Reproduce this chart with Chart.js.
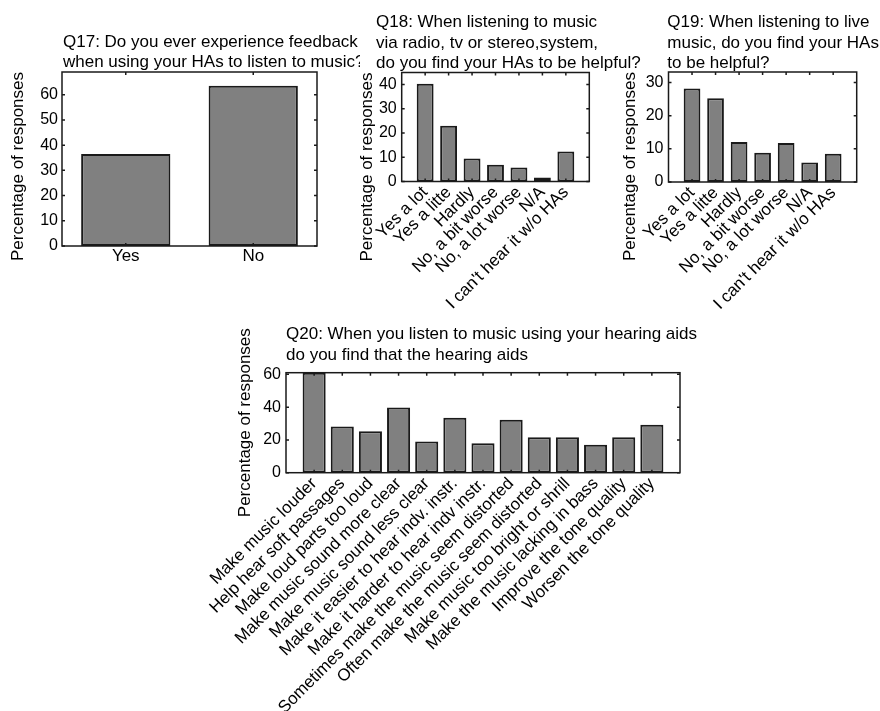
<!DOCTYPE html>
<html lang="en">
<head>
<meta charset="utf-8">
<title>Hearing aids and music</title>
<script src="https://cdn.jsdelivr.net/npm/chart.js@4.4.0/dist/chart.umd.min.js"></script>
<style>
  body { margin: 0; background: #fff; }
  #fig { position: relative; width: 880px; height: 711px; overflow: hidden; }
  #fig canvas { position: absolute; }
</style>
</head>
<body>
<div id="fig">
  <canvas id="q17" width="360" height="272" style="left:0px;top:0px"></canvas>
  <canvas id="q18" width="300" height="312" style="left:350px;top:0px"></canvas>
  <canvas id="q19" width="275" height="312" style="left:605px;top:0px"></canvas>
  <canvas id="q20" width="530" height="411" style="left:190px;top:300px"></canvas>
</div>
<script>
// values (percentage of responses)
var q17Labels = ['Yes', 'No'];
var q17Values = [36.5, 63.5];

var q18Labels = ['Yes a lot', 'Yes a litte', 'Hardly', 'No, a bit worse', 'No, a lot worse', 'N/A', "I can't hear it w/o HAs"];
var q18Values = [40.4, 23.0, 9.5, 6.9, 5.8, 1.7, 12.4];

var q19Labels = ['Yes a lot', 'Yes a litte', 'Hardly', 'No, a bit worse', 'No, a lot worse', 'N/A', "I can't hear it w/o HAs"];
var q19Values = [28.2, 25.3, 12.1, 8.8, 11.8, 5.9, 8.5];

var q20Labels = ['Make music louder', 'Help hear soft passages', 'Make loud parts too loud', 'Make music sound more clear',
  'Make music sound less clear', 'Make it easier to hear indv. instr.', 'Make it harder to hear indv instr.',
  'Sometimes make the music seem distorted', 'Often make the music seem distorted', 'Make music too bright or shrill',
  'Make the music lacking in bass', 'Improve the tone quality', 'Worsen the tone quality'];
var q20Values = [61, 28.2, 25.3, 39.7, 19.1, 33.5, 17.9, 32.3, 21.6, 21.6, 17.1, 21.6, 29.2];

var q17Title = ['Q17: Do you ever experience feedback', 'when using your HAs to listen to music?'];
var q18Title = ['Q18: When listening to music', 'via radio, tv or stereo,system,', 'do you find your HAs to be helpful?'];
var q19Title = ['Q19: When listening to live', 'music, do you find your HAs', 'to be helpful?'];
var q20Title = ['Q20: When you listen to music using your hearing aids', 'do you find that the hearing aids'];

var FONT = '"Liberation Sans", Arial, Helvetica, sans-serif';
Chart.defaults.font.family = FONT;
Chart.defaults.color = '#000';

// multi-line, left aligned title above the plot box
var panelTitle = {
  id: 'panelTitle',
  afterDraw: function(chart, args, o) {
    var a = chart.chartArea, ctx = chart.ctx, n = o.lines.length;
    ctx.save();
    ctx.font = '17px ' + FONT;
    ctx.fillStyle = '#000';
    ctx.textBaseline = 'alphabetic';
    o.lines.forEach(function(line, i) {
      ctx.fillText(line, a.left + o.dx, a.top - o.gap - (n - 1 - i) * o.lh);
    });
    ctx.restore();
  }
};

// matlab style box with inward ticks on all four sides
var frame = {
  id: 'frame',
  afterDatasetsDraw: function(chart) {
    var a = chart.chartArea, ctx = chart.ctx, t = 3;
    var xs = chart.scales.x, ys = chart.scales.y;
    ctx.save();
    ctx.strokeStyle = '#1a1a1a';
    ctx.lineWidth = 1.5;
    ctx.strokeRect(a.left, a.top, a.width, a.height);
    ctx.beginPath();
    xs.ticks.forEach(function(tk) {
      var px = xs.getPixelForValue(tk.value);
      ctx.moveTo(px, a.bottom); ctx.lineTo(px, a.bottom - t);
      ctx.moveTo(px, a.top); ctx.lineTo(px, a.top + t);
    });
    ys.ticks.forEach(function(tk) {
      var py = ys.getPixelForValue(tk.value);
      ctx.moveTo(a.left, py); ctx.lineTo(a.left + t, py);
      ctx.moveTo(a.right, py); ctx.lineTo(a.right - t, py);
    });
    ctx.stroke();
    ctx.restore();
  }
};

function makeChart(id, labels, values, title, p) {
  return new Chart(document.getElementById(id), {
    type: 'bar',
    data: {
      datasets: [{
        data: values.map(function(v, i) { return {x: i + 1, y: v}; }),
        backgroundColor: '#808080',
        borderColor: '#1a1a1a',
        borderWidth: 2,
        borderSkipped: false,
        categoryPercentage: 1,
        barPercentage: p.bar
      }]
    },
    options: {
      responsive: false,
      animation: false,
      layout: {padding: p.pad},
      plugins: {
        legend: {display: false},
        tooltip: {enabled: false},
        panelTitle: {lines: title, dx: p.tdx, gap: p.tgap, lh: p.tlh}
      },
      scales: {
        x: {
          type: 'linear', min: p.xMin, max: p.xMax, offset: false,
          grid: {display: false, drawTicks: false, offset: false},
          border: {display: false},
          afterBuildTicks: function(s) { s.ticks = labels.map(function(l, i) { return {value: i + 1}; }); },
          afterFit: function(s) { s.height = p.xHeight; s.paddingLeft = 0; s.paddingRight = 0; },
          ticks: {
            autoSkip: false, minRotation: p.rot, maxRotation: p.rot, padding: p.xPad,
            font: {size: 17},
            callback: function(v) { return labels[v - 1]; }
          }
        },
        y: {
          min: 0, max: p.yMax,
          grid: {display: false, drawTicks: false},
          border: {display: false},
          afterFit: function(s) { s.width = p.yWidth; s.paddingTop = 0; s.paddingBottom = 0; },
          ticks: {stepSize: p.yStep, includeBounds: false, padding: p.yPad, font: {size: 16}},
          title: {
            display: true, text: 'Percentage of responses', align: p.yAlign,
            padding: {top: p.yTitlePad, bottom: 0}, font: {size: 17}
          }
        }
      }
    },
    plugins: [panelTitle, frame]
  });
}

makeChart('q17', q17Labels, q17Values, q17Title, {
  bar: 0.7, xMin: 0.5, xMax: 2.5, yMax: 69, yStep: 10, rot: 0,
  pad: {left: 0, top: 72, right: 43, bottom: 0}, yWidth: 62, xHeight: 26, xPad: 0, yPad: 4,
  yAlign: 'end', yTitlePad: 8.1, tdx: 1, tgap: 5.3, tlh: 20
});
makeChart('q18', q18Labels, q18Values, q18Title, {
  bar: 0.72, xMin: 0, xMax: 8, yMax: 45, yStep: 10, rot: 45,
  pad: {left: 0, top: 72.5, right: 60.7, bottom: 0}, yWidth: 51.7, xHeight: 130.5, xPad: 1, yPad: 5,
  yAlign: 'end', yTitlePad: 7.3, tdx: -25.7, tgap: 4.2, tlh: 20.5
});
makeChart('q19', q19Labels, q19Values, q19Title, {
  bar: 0.71, xMin: 0, xMax: 8, yMax: 33.2, yStep: 10, rot: 45,
  pad: {left: 0, top: 72, right: 23.3, bottom: 0}, yWidth: 63.5, xHeight: 130, xPad: 1, yPad: 5,
  yAlign: 'end', yTitlePad: 14.8, tdx: -1.2, tgap: 3.7, tlh: 20.5
});
makeChart('q20', q20Labels, q20Values, q20Title, {
  bar: 0.82, xMin: 0, xMax: 14, yMax: 61, yStep: 20, rot: 45,
  pad: {left: 0, top: 72.7, right: 40, bottom: 0}, yWidth: 96, xHeight: 238.3, xPad: 1, yPad: 5,
  yAlign: 'center', yTitlePad: 44.8, tdx: 0, tgap: 12.7, tlh: 20.7
});
</script>
</body>
</html>
